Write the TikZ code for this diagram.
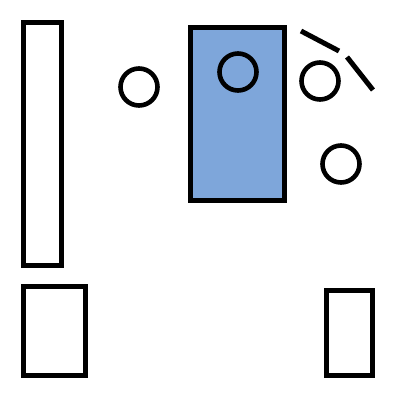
\documentclass[tikz,border=0pt]{standalone}
\usepackage{tikz}
\usepackage{xcolor}
\definecolor{panelblue}{RGB}{126,166,218}

\begin{document}
\begin{tikzpicture}[x=1pt, y=-1pt, line width=5pt,
			every node/.style={draw, inner sep=0pt, outer sep=0pt},
			box/.style={rectangle},
			ring/.style={circle, minimum size=37pt, line width=4.6pt}]
			\useasboundingbox (0,0) rectangle (400,400);
			
			\node[box, minimum width=38pt, minimum height=242.5pt] (tall) at (42.25,143.75) {};
			\node[box, minimum width=61.5pt, minimum height=88.5pt] (lowleft) at (54.25,330.75) {};
			\node[box, fill=panelblue, minimum width=94pt, minimum height=173pt] (panel) at (237.5,114) {};
			\node[box, minimum width=46pt, minimum height=85pt] (lowright) at (349.5,333) {};
			
			\node[ring] (left) at (139,87) {};
			\node[ring] (inner) at (238,72) {};
			\node[ring] (right) at (320,81) {};
			\node[ring] (low) at (341,164) {};
			
			\draw (301,31) -- (339,51);
			\draw (347,57) -- (373,90);
		\end{tikzpicture}
\end{document}
